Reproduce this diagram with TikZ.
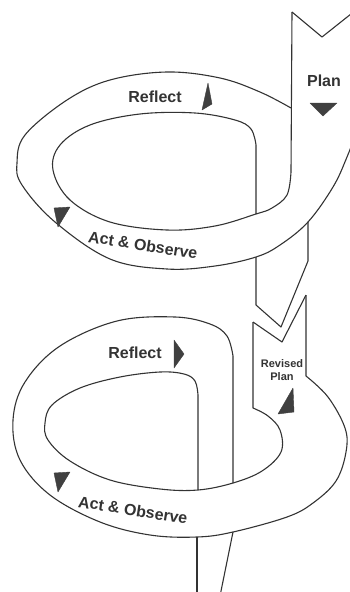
\documentclass[tikz,border=0pt]{standalone}
\usepackage{fontspec}
\setmainfont{Liberation Sans}
\begin{document}
\begin{tikzpicture}[x=1pt, y=-1pt,
    edge/.style={line width=1.1pt, draw=black!80, line join=round},
    head/.style={fill=black!75, draw=black!75, line width=0.4pt, line join=round},
    lbl/.style={font=\bfseries\fontsize{16}{19}\selectfont, text=black!80, inner sep=0pt},
    lblsmall/.style={font=\bfseries\fontsize{11}{13.5}\selectfont, text=black!80,
      align=center, inner sep=0pt}
  ]
  \useasboundingbox (0,0) rectangle (350,592);
  \clip (0,0) rectangle (350,592);

  % upper loop
  \draw[edge] (292,12) -- (322,37) -- (356,10);
  \draw[edge] (292,12) -- (291,172) -- plot[smooth, tension=0.6] coordinates {
    (291,172) (287,195) (272,208) (256,214) (215,226) (167,230) (110,222)
    (70,200) (53,170) (60,145) (90,125) (140,114) (195,113) (235,120)
    (251,129) (256,145)} -- (256,214);
  \draw[edge] plot[smooth, tension=0.6] coordinates {
    (362,118) (347,157) (333,187) (308,222) (280,245) (256,257) (215,266)
    (167,269) (110,259) (55,222) (22,185) (17,163) (25,135) (67,100)
    (110,80) (167,72) (220,78) (260,92) (291,108)};
  \draw[edge] (256,257) -- (256,305) -- (281,327) -- (308,261) -- (308,222);

  % lower loop
  \draw[edge] (253,322) -- (282,342) -- (306,295);
  \draw[edge] (253,322) -- (253,408) -- plot[smooth, tension=0.6] coordinates {
    (253,408) (268,416) (280,430) (281,452) (262,471) (233,483) (198,490)
    (160,489) (110,480) (70,461) (48,440) (45,423) (52,405) (80,388)
    (120,377) (160,372) (184,374) (195,381) (198,395)} -- (198,490);
  \draw[edge] (306,295) -- (306,376) -- plot[smooth, tension=0.6] coordinates {
    (306,376) (328,397) (345,428) (346,452) (336,481) (313,503) (287,517)
    (233,532) (197,537) (150,535) (100,522) (50,495) (20,460) (13,420)
    (25,382) (60,346) (117,321) (175,317) (210,324) (227,336) (233,356)}
    -- (233,483);
  \draw[edge] (197,537) -- (197,596);
  \draw[edge] (233,532) -- (220,596);

  % arrowheads
  \fill[head] (310,103) -- (337,103) -- (323,116) -- cycle;
  \fill[head] (208,83) -- (212,104) -- (202,110) -- cycle;
  \fill[head] (174,340) -- (174,368) -- (184,354) -- cycle;
  \fill[head] (293,388) -- (294,412) -- (278,414) -- cycle;
  \foreach \dy in {0,265}
    \fill[head] (54,{208+\dy}) -- (70,{207+\dy}) -- (58,{227+\dy}) -- cycle;

  % labels
  \node[lbl] (plan) at (324,81) {Plan};
  \node[lbl] (reflectA) at (155,97) {Reflect};
  \node[lbl, rotate=-9] (actA) at (143,245) {Act~\&~Observe};
  \node[lbl] (reflectB) at (135,353) {Reflect};
  \node[lbl, rotate=-9] (actB) at (133,510) {Act~\&~Observe};
  \node[lblsmall] (revised) at (282,370) {Revised\\Plan};
\end{tikzpicture}
\end{document}
